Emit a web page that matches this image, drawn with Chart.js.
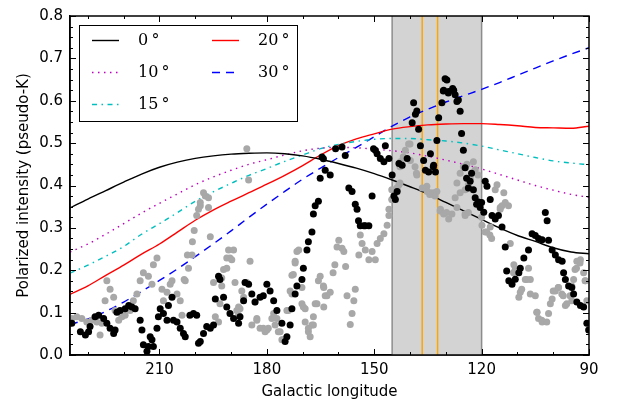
<!DOCTYPE html>
<html><head><meta charset="utf-8">
<script src="https://cdn.jsdelivr.net/npm/chart.js@4/dist/chart.umd.min.js"></script>
<style>html,body{margin:0;padding:0;background:#fff}#wrap{width:618px;height:405px}</style>
</head><body><div id="wrap"><canvas id="c" width="618" height="405"></canvas></div>
<script>
// ---------- data ----------
const modelLon = [235,230,225,220,215,210,205,200,195,190,185,180,175,170,165,160,155,150,145,140,135,130,125,120,115,110,105,100,95,90];
const model0  = [0.347,0.368,0.388,0.408,0.427,0.443,0.455,0.464,0.470,0.474,0.476,0.477,0.475,0.470,0.462,0.452,0.441,0.428,0.413,0.397,0.380,0.360,0.340,0.320,0.300,0.282,0.268,0.253,0.243,0.239];
const model10 = [0.243,0.262,0.285,0.310,0.335,0.358,0.380,0.402,0.420,0.436,0.450,0.461,0.472,0.482,0.488,0.490,0.489,0.486,0.482,0.477,0.469,0.460,0.450,0.439,0.426,0.413,0.400,0.389,0.379,0.372];
const model15 = [0.193,0.212,0.233,0.256,0.285,0.310,0.336,0.363,0.385,0.405,0.424,0.440,0.457,0.472,0.487,0.497,0.504,0.509,0.511,0.511,0.508,0.505,0.500,0.493,0.484,0.475,0.466,0.458,0.453,0.449];
const model20 = [0.143,0.163,0.188,0.212,0.238,0.262,0.290,0.318,0.342,0.363,0.383,0.403,0.424,0.447,0.472,0.494,0.510,0.522,0.533,0.539,0.543,0.545,0.546,0.546,0.544,0.541,0.537,0.536,0.535,0.540];
const model30 = [0.072,0.085,0.103,0.125,0.150,0.176,0.203,0.232,0.262,0.293,0.325,0.356,0.386,0.415,0.441,0.466,0.490,0.515,0.540,0.562,0.580,0.597,0.612,0.627,0.643,0.660,0.677,0.694,0.710,0.725];
const modelLabels = ['0°','10°','15°','20°','30°'];

const blackLon = [234.5,232.1,230.7,229.8,229.4,228.0,227.0,225.6,224.7,223.8,222.8,222.4,221.9,221.0,219.6,218.6,217.7,216.8,215.4,214.9,214.5,213.5,213.1,212.6,212.1,211.7,210.7,210.3,209.8,208.9,207.9,207.5,206.5,206.1,205.1,204.2,203.3,202.8,201.5,200.5,199.6,199.1,198.6,197.7,196.8,195.8,194.9,194.4,193.5,193.1,192.1,191.2,190.3,189.3,187.9,187.5,186.5,186.1,185.1,184.2,183.3,181.9,181.0,180.0,179.1,178.1,177.2,175.8,174.9,174.4,173.5,173.0,172.1,171.6,170.2,169.8,168.8,168.4,167.4,167.0,166.5,165.6,165.1,164.6,164.2,163.7,162.3,160.8,159.0,158.1,157.1,156.2,155.3,154.8,154.4,153.9,152.9,152.5,151.5,150.6,150.2,149.7,149.2,148.3,147.3,146.9,145.9,145.0,144.5,144.1,143.6,143.1,142.2,140.8,139.4,139.0,138.5,138.1,137.6,137.1,136.2,135.7,134.8,134.3,133.5,133.4,132.9,132.5,132.0,131.1,130.7,130.6,130.2,129.7,129.3,129.2,128.1,127.8,127.4,126.9,126.5,126.0,125.6,125.1,124.6,124.2,123.7,123.2,122.8,122.3,121.8,121.4,120.9,120.4,120.0,119.4,119.0,118.5,117.6,117.1,116.2,115.3,114.3,113.4,113.0,112.4,111.5,110.6,109.6,109.2,108.2,106.9,105.9,105.0,104.1,103.1,102.2,101.7,101.3,100.3,99.4,98.5,97.5,97.1,96.6,95.7,94.8,94.3,93.4,92.4,91.5,90.6,90.1];
const blackVal = [0.075,0.055,0.047,0.055,0.067,0.090,0.094,0.086,0.075,0.063,0.051,0.059,0.101,0.105,0.109,0.117,0.113,0.109,0.082,0.059,0.024,0.009,0.020,0.043,0.036,0.020,0.063,0.090,0.109,0.098,0.082,0.117,0.136,0.082,0.078,0.063,0.051,0.043,0.094,0.098,0.094,0.028,0.032,0.051,0.067,0.063,0.071,0.132,0.186,0.178,0.136,0.113,0.098,0.086,0.075,0.090,0.128,0.171,0.167,0.144,0.125,0.136,0.140,0.167,0.151,0.128,0.105,0.075,0.032,0.043,0.071,0.109,0.144,0.163,0.178,0.205,0.248,0.267,0.290,0.333,0.352,0.363,0.417,0.467,0.463,0.436,0.425,0.487,0.491,0.471,0.394,0.386,0.356,0.344,0.317,0.305,0.305,0.305,0.305,0.375,0.487,0.483,0.475,0.464,0.456,0.494,0.464,0.425,0.375,0.367,0.386,0.452,0.448,0.464,0.548,0.595,0.568,0.576,0.533,0.494,0.459,0.436,0.432,0.475,0.444,0.448,0.432,0.506,0.560,0.595,0.623,0.625,0.652,0.649,0.618,0.622,0.629,0.625,0.614,0.598,0.602,0.575,0.523,0.483,0.442,0.417,0.394,0.410,0.429,0.390,0.371,0.356,0.361,0.348,0.360,0.337,0.410,0.398,0.367,0.329,0.321,0.329,0.302,0.255,0.198,0.175,0.167,0.179,0.194,0.205,0.229,0.248,0.286,0.282,0.275,0.272,0.336,0.317,0.271,0.248,0.236,0.225,0.221,0.194,0.178,0.163,0.159,0.144,0.125,0.117,0.113,0.075,0.059];

const greyLon = [234.5,233.1,231.7,230.3,228.9,227.5,226.6,226.1,225.2,224.7,223.8,222.8,222.4,221.4,220.5,219.6,218.2,217.3,216.3,215.4,214.5,213.1,212.1,211.7,210.7,209.3,208.9,207.9,207.0,206.5,205.1,204.2,203.7,203.1,202.8,202.2,201.9,200.9,200.8,200.3,199.6,199.1,198.6,198.6,197.7,197.2,196.3,196.3,195.8,194.9,194.4,193.5,193.1,192.6,192.6,192.1,191.2,191.2,190.7,190.3,189.8,189.3,188.9,188.4,187.9,187.9,187.5,187.0,186.5,185.6,185.6,185.1,184.7,184.2,183.3,182.8,182.8,181.9,181.0,180.5,180.0,179.6,178.6,178.1,177.7,177.2,176.8,176.3,175.8,175.4,174.4,174.0,173.5,173.0,173.0,172.6,172.1,172.1,171.6,171.1,170.2,170.2,169.8,169.3,169.3,168.4,168.4,167.9,167.4,167.0,167.0,166.5,166.0,165.6,165.1,164.2,164.1,164.1,163.7,163.2,162.3,161.5,161.0,160.4,159.9,159.0,158.5,158.0,157.6,156.7,156.2,155.7,155.3,154.3,153.9,153.4,152.5,151.5,150.6,149.7,149.2,148.3,147.3,146.4,145.9,145.9,145.1,145.1,145.0,143.7,143.6,143.1,142.8,142.8,142.7,141.9,141.8,141.3,140.4,140.0,139.9,138.6,138.2,138.1,136.6,135.3,135.2,134.5,134.4,133.8,133.5,133.0,132.5,131.6,131.5,130.6,129.8,129.2,128.3,127.4,126.9,126.9,126.0,126.0,125.1,124.6,124.6,124.6,124.1,123.7,123.7,123.2,122.3,121.8,121.0,120.0,119.9,119.0,118.6,117.7,117.6,117.2,116.2,115.7,114.8,114.8,114.3,113.8,113.4,112.5,112.0,111.1,111.0,110.6,109.6,109.2,108.8,107.8,107.4,106.9,106.4,106.4,105.0,104.6,104.5,104.1,103.2,103.1,101.8,101.3,100.8,100.3,100.0,99.4,98.6,98.5,97.6,97.2,96.6,96.2,95.3,94.8,94.8,94.3,93.9,93.5,93.4,92.5,92.4,91.5,91.1,91.0,90.6];
const greyVal = [0.086,0.090,0.086,0.078,0.082,0.078,0.047,0.075,0.128,0.175,0.155,0.136,0.105,0.082,0.090,0.094,0.105,0.128,0.144,0.175,0.194,0.186,0.167,0.213,0.229,0.155,0.128,0.148,0.167,0.175,0.144,0.128,0.094,0.178,0.175,0.236,0.205,0.236,0.267,0.294,0.329,0.344,0.352,0.360,0.383,0.375,0.371,0.348,0.279,0.171,0.090,0.078,0.121,0.163,0.182,0.202,0.205,0.229,0.248,0.229,0.225,0.248,0.171,0.105,0.113,0.094,0.109,0.151,0.136,0.171,0.487,0.413,0.221,0.071,0.125,0.086,0.082,0.063,0.063,0.055,0.059,0.063,0.086,0.098,0.071,0.086,0.055,0.055,0.036,0.036,0.105,0.105,0.151,0.144,0.188,0.190,0.217,0.221,0.244,0.248,0.159,0.121,0.113,0.078,0.109,0.055,0.063,0.043,0.071,0.071,0.090,0.121,0.121,0.175,0.186,0.163,0.159,0.113,0.140,0.140,0.148,0.194,0.213,0.255,0.271,0.252,0.244,0.209,0.140,0.072,0.098,0.128,0.155,0.236,0.283,0.263,0.248,0.225,0.244,0.225,0.263,0.275,0.286,0.306,0.329,0.344,0.390,0.367,0.367,0.394,0.390,0.402,0.406,0.444,0.456,0.467,0.467,0.483,0.498,0.498,0.459,0.444,0.429,0.425,0.394,0.398,0.386,0.379,0.383,0.379,0.383,0.375,0.386,0.340,0.344,0.333,0.336,0.321,0.333,0.371,0.348,0.406,0.383,0.429,0.444,0.329,0.333,0.390,0.450,0.336,0.402,0.417,0.456,0.437,0.425,0.325,0.306,0.290,0.290,0.283,0.302,0.275,0.390,0.402,0.348,0.344,0.352,0.383,0.360,0.352,0.263,0.194,0.213,0.202,0.136,0.148,0.155,0.178,0.178,0.205,0.178,0.144,0.140,0.101,0.101,0.086,0.082,0.078,0.078,0.098,0.121,0.132,0.151,0.151,0.159,0.159,0.144,0.140,0.117,0.121,0.140,0.128,0.163,0.178,0.202,0.205,0.221,0.217,0.225,0.194,0.175,0.175,0.128];

const xTickValues = [210,180,150,120,90];
const xMinorValues = [230,220,200,190,170,160,140,130,110,100];
const yTickValues = [0,0.1,0.2,0.3,0.4,0.5,0.6,0.7,0.8];
const shadedRange = [145,120];
const markerLon = [136.6,132.3];

const xTitle = 'Galactic longitude';
const yTitle = 'Polarized intensity (pseudo-K)';

// ---------- helpers ----------
const pts = (xs, ys) => xs.map((v, i) => ({x: v, y: ys[i]}));
const FONT = 'DejaVu Sans';

const bandPlugin = {
  id: 'band',
  beforeDatasetsDraw(chart) {
    const {ctx, chartArea: a, scales: {x}} = chart;
    const x1 = x.getPixelForValue(shadedRange[0]);
    const x2 = x.getPixelForValue(shadedRange[1]);
    ctx.save();
    ctx.fillStyle = '#d3d3d3';
    ctx.fillRect(Math.min(x1, x2), a.top, Math.abs(x2 - x1), a.bottom - a.top);
    ctx.strokeStyle = '#8c8c8c'; ctx.lineWidth = 1.5;
    [x1, x2].forEach(px => { ctx.beginPath(); ctx.moveTo(px, a.top); ctx.lineTo(px, a.bottom); ctx.stroke(); });
    ctx.strokeStyle = '#ffa500'; ctx.lineWidth = 1.5;
    markerLon.forEach(v => { const px = x.getPixelForValue(v); ctx.beginPath(); ctx.moveTo(px, a.top); ctx.lineTo(px, a.bottom); ctx.stroke(); });
    ctx.restore();
  }
};

const framePlugin = {
  id: 'frame',
  afterDatasetsDraw(chart) {
    const {ctx, chartArea: a, scales: {x, y}} = chart;
    ctx.save();
    ctx.strokeStyle = '#000'; ctx.lineWidth = 1;
    const vt = (v, len) => { const px = Math.round(x.getPixelForValue(v)) + 0.5;
      ctx.beginPath(); ctx.moveTo(px, a.bottom); ctx.lineTo(px, a.bottom - len);
      ctx.moveTo(px, a.top); ctx.lineTo(px, a.top + len); ctx.stroke(); };
    const ht = (v, len) => { const py = Math.round(y.getPixelForValue(v)) + 0.5;
      ctx.beginPath(); ctx.moveTo(a.left, py); ctx.lineTo(a.left + len, py);
      ctx.moveTo(a.right, py); ctx.lineTo(a.right - len, py); ctx.stroke(); };
    xTickValues.forEach(v => vt(v, 6));
    xMinorValues.forEach(v => vt(v, 3));
    yTickValues.forEach((v, i) => {
      ht(v, 6);
      if (i < yTickValues.length - 1) {
        const step = (yTickValues[i + 1] - v) / 4;
        for (let k = 1; k < 4; k++) ht(v + k * step, 3);
      }
    });
    ctx.lineWidth = 1.5;
    ctx.strokeRect(a.left, a.top, a.right - a.left, a.bottom - a.top);
    ctx.restore();
  }
};

const legendPlugin = {
  id: 'customLegend',
  afterDraw(chart) {
    const {ctx, chartArea: a} = chart;
    const bx = a.left + 9, by = a.top + 9, bw = 218, bh = 96;
    ctx.save();
    ctx.fillStyle = '#fff'; ctx.fillRect(bx, by, bw, bh);
    ctx.strokeStyle = '#000'; ctx.lineWidth = 1; ctx.strokeRect(bx + 0.5, by + 0.5, bw, bh);
    const lines = chart.data.datasets.filter(d => d.showLine);
    const cols = [[0, 1, 2], [3, 4]];
    ctx.font = '16px "DejaVu Serif"';
    ctx.textBaseline = 'middle';
    cols.forEach((col, ci) => {
      col.forEach((di, ri) => {
        const d = lines[di];
        const x0 = bx + 13 + ci * 120, yy = by + 15.5 + ri * 32;
        ctx.strokeStyle = d.borderColor; ctx.lineWidth = d.borderWidth;
        ctx.setLineDash(d.borderDash || []);
        ctx.beginPath(); ctx.moveTo(x0, yy); ctx.lineTo(x0 + 27, yy); ctx.stroke();
        ctx.setLineDash([]);
        ctx.fillStyle = '#000';
        ctx.fillText(d.label.replace('°', '\u2009°'), x0 + 46, yy);
      });
    });
    ctx.restore();
  }
};

const lineDs = (label, ys, color, dash) => ({
  label, data: pts(modelLon, ys), showLine: true, pointRadius: 0, pointHoverRadius: 0,
  borderColor: color, backgroundColor: color, borderWidth: 1.4, borderDash: dash,
  cubicInterpolationMode: 'monotone', fill: false
});

new Chart(document.getElementById('c'), {
  type: 'scatter',
  data: {
    datasets: [
      {label: 'black', data: pts(blackLon, blackVal), pointRadius: 3.5, pointBorderWidth: 0,
       backgroundColor: '#000', borderColor: '#000', showLine: false},
      {label: 'grey', data: pts(greyLon, greyVal), pointRadius: 3.5, pointBorderWidth: 0,
       backgroundColor: '#a8a8a8', borderColor: '#a8a8a8', showLine: false},
      lineDs(modelLabels[0], model0, '#000000', []),
      lineDs(modelLabels[1], model10, '#bf00bf', [1.5, 4.5]),
      lineDs(modelLabels[2], model15, '#00bfbf', [5, 4.5, 1.5, 4.5]),
      lineDs(modelLabels[3], model20, '#ff0000', []),
      lineDs(modelLabels[4], model30, '#0000ff', [8, 6])
    ]
  },
  options: {
    responsive: false, animation: false, devicePixelRatio: 1,
    layout: {padding: {left: 0, right: 29, top: 9, bottom: 0}},
    plugins: {legend: {display: false}, tooltip: {enabled: false}},
    scales: {
      x: {
        type: 'linear', reverse: true, min: 90, max: 235,
        afterBuildTicks: s => { s.ticks = xTickValues.map(v => ({value: v})); },
        afterFit: s => { s.height = 50; },
        grid: {display: false, drawTicks: false},
        border: {display: true, color: '#000', width: 1.5},
        ticks: {color: '#000', font: {family: FONT, size: 15}, padding: 6, maxRotation: 0,
                callback: v => String(v)},
        title: {display: true, text: xTitle, color: '#000', font: {family: FONT, size: 15}, padding: {top: 0, bottom: 4}}
      },
      y: {
        min: 0, max: 0.8,
        afterBuildTicks: s => { s.ticks = yTickValues.map(v => ({value: v})); },
        afterFit: s => { s.width = 70; },
        grid: {display: false, drawTicks: false},
        border: {display: true, color: '#000', width: 1.5},
        ticks: {color: '#000', font: {family: FONT, size: 15}, padding: 7,
                callback: v => v.toFixed(1)},
        title: {display: true, text: yTitle, color: '#000', font: {family: FONT, size: 15}, padding: {top: 15, bottom: 0}}
      }
    }
  },
  plugins: [bandPlugin, framePlugin, legendPlugin]
});
</script></body></html>
